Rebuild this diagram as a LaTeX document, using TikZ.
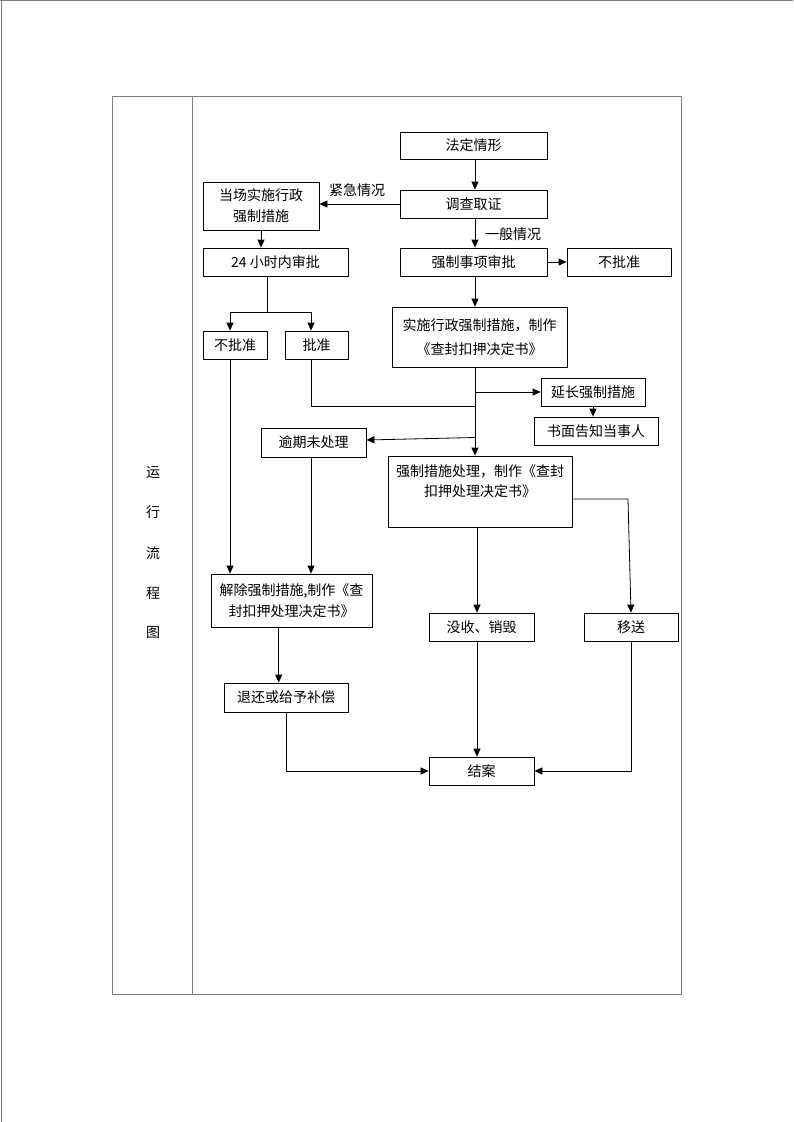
\documentclass[tikz,border=0pt]{standalone}
\usepackage{fontspec}
\setmainfont{Noto Sans CJK SC}
\usetikzlibrary{arrows.meta}
\tikzset{
  box/.style={draw=black, line width=0.8pt, inner sep=0pt, align=center, font=\fontsize{14}{21}\selectfont},
  lbl/.style={inner sep=0pt, font=\fontsize{14}{21}\selectfont},
  arr/.style={draw=black, line width=0.8pt, -{Triangle[length=8pt,width=7pt]}},
  ln/.style={draw=black, line width=0.8pt},
  frame/.style={draw=gray, line width=0.9pt}
}
\begin{document}
\begin{tikzpicture}[x=1pt,y=-1pt]
\useasboundingbox (0,0) rectangle (793,1122);
% page border
\draw[frame] (0,0.5) -- (793,0.5);
\draw[frame] (1,0) -- (1,1122);
% table
\draw[frame] (112,96) rectangle (681,994);
\draw[frame] (192,96) -- (192,994);
\node[lbl] (c1) at (153,473) {运};
\node[lbl] (c2) at (153,512) {行};
\node[lbl] (c3) at (153,553) {流};
\node[lbl] (c4) at (153,593) {程};
\node[lbl] (c5) at (153,632) {图};
% boxes
\node[box, minimum width=147, minimum height=27] (fd) at (473.5,145.5) {法定情形};
\node[box, minimum width=147, minimum height=28] (dc) at (473.5,204) {调查取证};
\node[box, minimum width=116, minimum height=48] (dq) at (261,206) {当场实施行政\\强制措施};
\node[box, minimum width=145, minimum height=28] (h24) at (275.5,262) {24 小时内审批};
\node[box, minimum width=147, minimum height=28] (sp) at (473.5,262) {强制事项审批};
\node[box, minimum width=104, minimum height=28] (bpr) at (619,262) {不批准};
\node[box, minimum width=64, minimum height=28] (bpl) at (235,345) {不批准};
\node[box, minimum width=63, minimum height=28] (pz) at (316.5,345) {批准};
\node[box, minimum width=175, minimum height=60, font=\fontsize{14}{24}\selectfont] (ss) at (479.5,337) {实施行政强制措施，制作\\《查封扣押决定书》};
\node[box, minimum width=104, minimum height=28] (yc) at (593,392) {延长强制措施};
\node[box, minimum width=124, minimum height=28] (sm) at (596,431) {书面告知当事人};
\node[box, minimum width=105, minimum height=29] (yq) at (313.5,442.5) {逾期未处理};
\node[box, minimum width=184, minimum height=71] (cl) at (480,491.5) {};
\node[lbl, align=center, font=\fontsize{14}{20}\selectfont, anchor=north] (clt) at (480,464) {强制措施处理，制作《查封\\扣押处理决定书》};
\node[box, minimum width=161, minimum height=53] (jc) at (291.5,600.5) {解除强制措施,制作《查\\封扣押处理决定书》};
\node[box, minimum width=105, minimum height=28] (ms) at (481.5,627) {没收、销毁};
\node[box, minimum width=94, minimum height=28] (ys) at (631,627) {移送};
\node[box, minimum width=124, minimum height=29] (th) at (286,697.5) {退还或给予补偿};
\node[box, minimum width=105, minimum height=28] (ja) at (481.5,771) {结案};
% labels
\node[lbl] (jj) at (357,190) {紧急情况};
\node[lbl] (yb) at (513,234) {一般情况};
% helper coordinates
\coordinate (mx) at (475,0);
\coordinate (s1) at (267,312);
\coordinate (lx) at (230,0);
\coordinate (pzx) at (311,406);
\coordinate (yqs) at (475,437.5);
\coordinate (c477) at (477,0);
\coordinate (ysb) at (628,499);
% connectors
\draw[arr] (fd.south -| mx) -- (dc.north -| mx);
\draw[arr] (dc.west) -- (dq.east |- dc.west);
\draw[arr] (dq.south) -- (dq.south |- h24.north);
\draw[arr] (dc.south -| mx) -- (sp.north -| mx);
\draw[arr] (sp.east) -- (bpr.west);
\draw[ln] (h24.south -| s1) -- (s1);
\draw[ln] (s1 -| lx) -- (s1 -| pzx);
\draw[arr] (s1 -| lx) -- (bpl.north -| lx);
\draw[arr] (s1 -| pzx) -- (pz.north -| pzx);
\draw[arr] (sp.south -| mx) -- (ss.north -| mx);
\draw[arr] (ss.south -| mx) -- (cl.north -| mx);
\draw[arr] (mx |- yc.west) -- (yc.west);
\draw[arr] (yc.south) -- (yc.south |- sm.north);
\draw[ln] (pz.south -| pzx) -- (pzx) -- (mx |- pzx);
\draw[arr] (yqs) -- ([yshift=2.5pt]yq.east);
\draw[arr] (bpl.south -| lx) -- (jc.north -| lx);
\draw[arr] (yq.south -| pzx) -- (jc.north -| pzx);
\draw[arr] (cl.south -| c477) -- (ms.north -| c477);
\draw[arr] (cl.east |- ysb) -- (ysb) -- (ys.north);
\draw[arr] ([xshift=-12.8pt]jc.south) -- ([xshift=-12.8pt]jc.south |- th.north);
\draw[arr] (th.south) |- (ja.west);
\draw[arr] (ms.south -| c477) -- (ja.north -| c477);
\draw[arr] (ys.south) |- (ja.east);
\end{tikzpicture}
\end{document}
